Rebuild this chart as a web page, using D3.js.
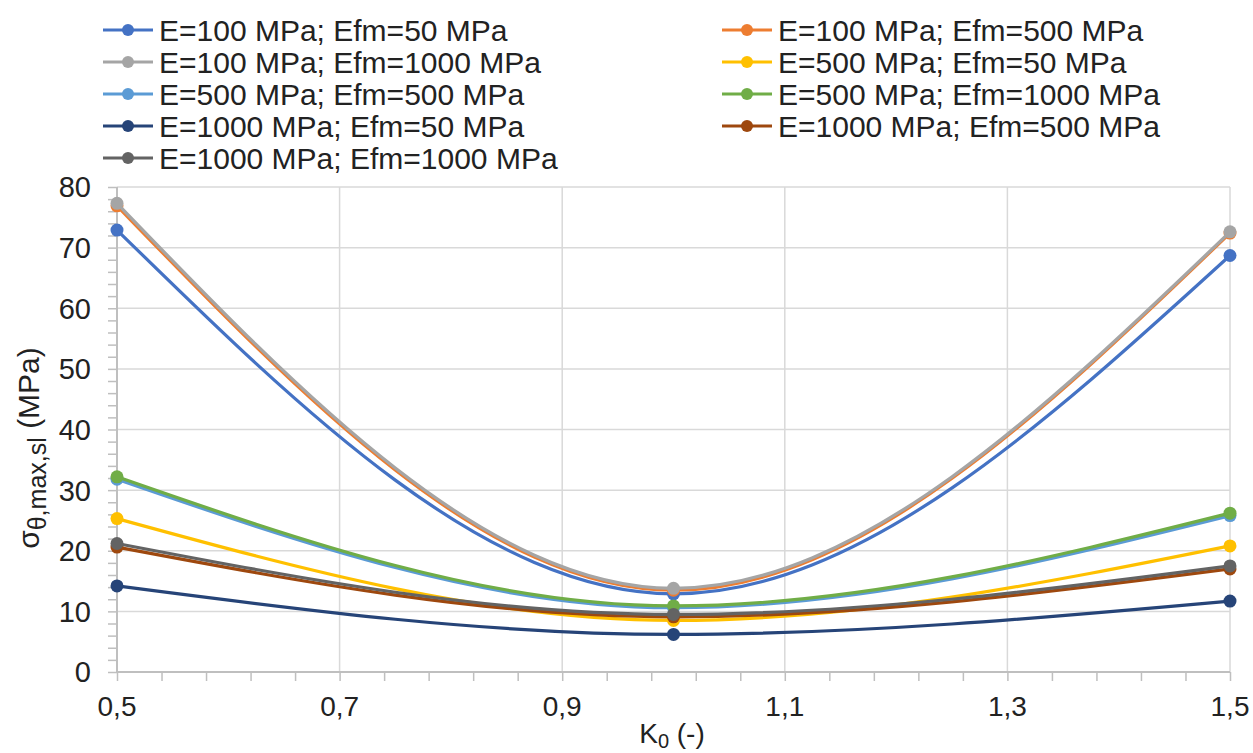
<!DOCTYPE html>
<html>
<head>
<meta charset="utf-8">
<script src="https://cdn.jsdelivr.net/npm/d3@7"></script>
<style>
  html, body { margin: 0; padding: 0; background: #fff; }
  svg { display: block; font-family: "Liberation Sans", Arial, sans-serif; }
</style>
</head>
<body>
<svg id="chart" width="1253" height="753"></svg>
<script>
// ---- data ----
const k0 = [0.5, 1.0, 1.5];
const seriesNames = [
  "E=100 MPa; Efm=50 MPa",
  "E=100 MPa; Efm=500 MPa",
  "E=100 MPa; Efm=1000 MPa",
  "E=500 MPa; Efm=50 MPa",
  "E=500 MPa; Efm=500 MPa",
  "E=500 MPa; Efm=1000 MPa",
  "E=1000 MPa; Efm=50 MPa",
  "E=1000 MPa; Efm=500 MPa",
  "E=1000 MPa; Efm=1000 MPa"
];
const s_E100_Efm50   = [72.9, 12.9, 68.7];
const s_E100_Efm500  = [76.9, 13.5, 72.4];
const s_E100_Efm1000 = [77.3, 13.8, 72.6];
const s_E500_Efm50   = [25.3, 8.5, 20.8];
const s_E500_Efm500  = [31.8, 10.6, 25.8];
const s_E500_Efm1000 = [32.2, 10.9, 26.2];
const s_E1000_Efm50  = [14.2, 6.2, 11.7];
const s_E1000_Efm500 = [20.6, 9.1, 17.0];
const s_E1000_Efm1000= [21.2, 9.5, 17.5];
const seriesValues = [s_E100_Efm50, s_E100_Efm500, s_E100_Efm1000, s_E500_Efm50,
  s_E500_Efm500, s_E500_Efm1000, s_E1000_Efm50, s_E1000_Efm500, s_E1000_Efm1000];
const colors = ["#4472C4", "#ED7D31", "#A5A5A5", "#FFC000", "#5B9BD5",
  "#70AD47", "#264478", "#9E480E", "#636363"];
const xTicks = [0.5, 0.7, 0.9, 1.1, 1.3, 1.5];
const xTickLabels = ["0,5", "0,7", "0,9", "1,1", "1,3", "1,5"];
const yTicks = [0, 10, 20, 30, 40, 50, 60, 70, 80];

// ---- layout ----
const svg = d3.select("#chart");
const pL = 117, pR = 1230, pT = 187, pB = 672;
const x = d3.scaleLinear().domain([0.5, 1.5]).range([pL, pR]);
const y = d3.scaleLinear().domain([0, 80]).range([pB, pT]);

// gridlines
const grid = svg.append("g");
grid.selectAll("line.h").data(yTicks.filter(d => d > 0)).join("line")
  .attr("x1", pL).attr("x2", pR)
  .attr("y1", d => y(d)).attr("y2", d => y(d))
  .attr("stroke", "#d9d9d9").attr("stroke-width", 1.5);
grid.selectAll("line.v").data(xTicks.filter(d => d > 0.5)).join("line")
  .attr("y1", pT).attr("y2", pB)
  .attr("x1", d => x(d)).attr("x2", d => x(d))
  .attr("stroke", "#d9d9d9").attr("stroke-width", 1.5);

// axes
const axisColor = "#bfbfbf";
const yMinor = d3.range(0, 80.001, 2);
const xMinor = d3.range(0.5, 1.5001, 0.04);
const yAxis = svg.append("g").attr("transform", `translate(${pL},0)`)
  .call(d3.axisLeft(y).tickValues(yMinor).tickSize(9).tickFormat(""));
const xAxis = svg.append("g").attr("transform", `translate(0,${pB})`)
  .call(d3.axisBottom(x).tickValues(xMinor).tickSize(9).tickFormat(""));
[yAxis, xAxis].forEach(a => {
  a.select(".domain").attr("stroke", axisColor).attr("stroke-width", 2);
  a.selectAll(".tick line").attr("stroke", axisColor).attr("stroke-width", 1.5);
});
yAxis.select(".domain").attr("d", `M0,${pB}V${pT}`);
xAxis.select(".domain").attr("d", `M${pL},0H${pR}`);

// tick labels
svg.append("g").selectAll("text").data(yTicks).join("text")
  .attr("x", 91).attr("y", d => y(d)).attr("dy", "0.36em")
  .attr("text-anchor", "end").attr("font-size", 29).attr("fill", "#222")
  .text(d => d);
svg.append("g").selectAll("text").data(xTicks).join("text")
  .attr("x", d => x(d)).attr("y", 716)
  .attr("text-anchor", "middle").attr("font-size", 28).attr("fill", "#222")
  .text((d, i) => xTickLabels[i]);

// axis titles
const xt = svg.append("text").attr("x", 672).attr("y", 743)
  .attr("text-anchor", "middle").attr("font-size", 28).attr("fill", "#222");
xt.append("tspan").text("K");
xt.append("tspan").attr("font-size", 20).attr("dy", 5).text("0");
xt.append("tspan").attr("dy", -5).text(" (-)");

const yt = svg.append("text").attr("transform", "translate(39,448) rotate(-90)")
  .attr("text-anchor", "middle").attr("font-size", 30).attr("fill", "#222");
yt.append("tspan").text("σ");
yt.append("tspan").attr("font-size", 25).attr("dy", 7).text("θ,max,sl");
yt.append("tspan").attr("dy", -7).text(" (MPa)");

// series
const line = d3.line().x((d, i) => x(k0[i])).y(d => y(d)).curve(d3.curveMonotoneX);
const plot = svg.append("g");
seriesValues.forEach((vals, si) => {
  const g = plot.append("g");
  g.append("path").datum(vals).attr("d", line)
    .attr("fill", "none").attr("stroke", colors[si]).attr("stroke-width", 3.2)
    .attr("stroke-linejoin", "round");
  g.selectAll("circle").data(vals).join("circle")
    .attr("cx", (d, i) => x(k0[i])).attr("cy", d => y(d)).attr("r", 6.5)
    .attr("fill", colors[si]);
});

// legend
const legend = svg.append("g");
const colX = [103, 722];
const rowY0 = 30, rowStep = 32;
seriesNames.forEach((name, i) => {
  const col = i % 2, row = Math.floor(i / 2);
  const gx = colX[col], gy = rowY0 + row * rowStep;
  const g = legend.append("g").attr("transform", `translate(${gx},${gy})`);
  g.append("line").attr("x1", 0).attr("x2", 50).attr("y1", 0).attr("y2", 0)
    .attr("stroke", colors[i]).attr("stroke-width", 3.2);
  g.append("circle").attr("cx", 25).attr("cy", 0).attr("r", 6).attr("fill", colors[i]);
  g.append("text").attr("x", 56).attr("y", 0).attr("dy", "0.36em")
    .attr("font-size", 30).attr("fill", "#222").text(name);
});
</script>
</body>
</html>
